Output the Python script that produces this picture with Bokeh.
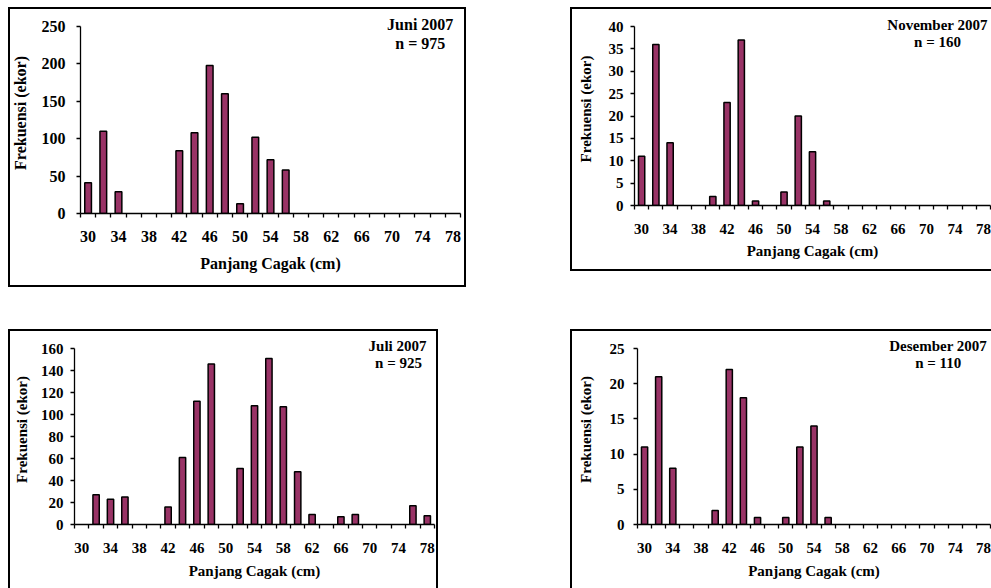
from bokeh.plotting import figure
from bokeh.models import Range1d, FixedTicker, Label, Spacer, ColumnDataSource
from bokeh.layouts import column, row
from bokeh.embed import file_html
from bokeh.resources import INLINE

# ---- data ----
lengths = [30, 32, 34, 36, 38, 40, 42, 44, 46, 48, 50, 52, 54, 56, 58,
           60, 62, 64, 66, 68, 70, 72, 74, 76, 78]
tick_labels = [30, 34, 38, 42, 46, 50, 54, 58, 62, 66, 70, 74, 78]

juni = [41, 110, 29, 0, 0, 0, 84, 108, 198, 160, 13, 102, 72, 58, 0,
        0, 0, 0, 0, 0, 0, 0, 0, 0, 0]
november = [11, 36, 14, 0, 0, 2, 23, 37, 1, 0, 3, 20, 12, 1, 0,
            0, 0, 0, 0, 0, 0, 0, 0, 0, 0]
juli = [0, 27, 23, 25, 0, 0, 16, 61, 112, 146, 0, 51, 108, 151, 107,
        48, 9, 0, 7, 9, 0, 0, 0, 17, 8]
desember = [11, 21, 8, 0, 0, 2, 22, 18, 1, 0, 1, 11, 14, 1, 0,
            0, 0, 0, 0, 0, 0, 0, 0, 0, 0]

titles = ["Juni 2007", "November 2007", "Juli 2007", "Desember 2007"]
n_labels = ["n = 975", "n = 160", "n = 925", "n = 110"]
y_max = [250, 40, 160, 25]
y_step = [50, 5, 20, 5]

FONT = "Liberation Serif"
BAR = "#993366"
X_TITLE = "Panjang Cagak (cm)"
Y_TITLE = "Frekuensi (ekor)"


def panel(counts, title, nlab, ymax, ystep, box, frame, top_ext, font_px,
          ylab_so, ytit_so, xlab_so, xtit_so, title_xy, n_xy, lines):
    """box = (x0, y0, w, h) and frame = (left, right, top_at_ymax, bottom),
    all in page pixels; lines = border strokes (x, y, w, h) inside the box."""
    x0, y0, w, h = box
    fl, fr, ft, fb = frame
    half = (lengths[1] - lengths[0]) / 2.0
    x_start = lengths[0] - half
    x_end = lengths[-1] + half
    y_end = ymax * (fb - top_ext) / (fb - ft)
    p = figure(width=w, height=h, output_backend="svg",
               toolbar_location=None,
               x_range=Range1d(x_start, x_end), y_range=Range1d(0, y_end),
               min_border_left=int(round(fl - x0)),
               min_border_right=int(round(x0 + w - fr)),
               min_border_top=int(round(top_ext - y0)),
               min_border_bottom=int(round(y0 + h - fb)))
    p.outline_line_color = None
    p.grid.visible = False
    p.background_fill_color = None
    p.border_fill_color = None

    xs = [x for x, c in zip(lengths, counts) if c > 0]
    ys = [c for c in counts if c > 0]
    src = ColumnDataSource(dict(x=xs, top=ys))
    p.vbar(x="x", top="top", width=2 * half * 0.44, bottom=0, source=src,
           fill_color=BAR, line_color="black", line_width=1.5)

    fs = f"{font_px}px"
    xa = p.xaxis[0]
    bounds = [v - half for v in lengths] + [lengths[-1] + half]
    xa.ticker = FixedTicker(ticks=tick_labels, minor_ticks=bounds)
    xa.major_tick_out = 0
    xa.major_tick_in = 0
    xa.minor_tick_out = 4
    xa.minor_tick_in = 0
    xa.axis_line_color = "black"
    xa.axis_line_width = 1.3
    xa.minor_tick_line_color = "black"
    xa.minor_tick_line_width = 1.3
    xa.major_label_text_font = FONT
    xa.major_label_text_font_size = fs
    xa.major_label_text_font_style = "bold"
    xa.major_label_text_color = "black"
    xa.major_label_standoff = xlab_so
    xa.axis_label = X_TITLE
    xa.axis_label_text_font = FONT
    xa.axis_label_text_font_size = fs
    xa.axis_label_text_font_style = "bold"
    xa.axis_label_text_color = "black"
    xa.axis_label_standoff = xtit_so

    ya = p.yaxis[0]
    ya.bounds = (0, ymax)
    ya.ticker = FixedTicker(ticks=list(range(0, ymax + 1, ystep)), minor_ticks=[])
    ya.major_tick_out = 4
    ya.major_tick_in = 0
    ya.major_tick_line_color = "black"
    ya.major_tick_line_width = 1.3
    ya.axis_line_color = "black"
    ya.axis_line_width = 1.3
    ya.major_label_text_font = FONT
    ya.major_label_text_font_size = fs
    ya.major_label_text_font_style = "bold"
    ya.major_label_text_color = "black"
    ya.major_label_standoff = ylab_so
    ya.axis_label = Y_TITLE
    ya.axis_label_text_font = FONT
    ya.axis_label_text_font_size = fs
    ya.axis_label_text_font_style = "bold"
    ya.axis_label_text_color = "black"
    ya.axis_label_standoff = ytit_so

    def to_data(px, py):
        dx = x_start + (px - fl) / (fr - fl) * (x_end - x_start)
        dy = (fb - py) / (fb - ft) * ymax
        return dx, dy

    for txt, (px, py) in ((title, title_xy), (nlab, n_xy)):
        dx, dy = to_data(px, py)
        p.add_layout(Label(x=dx, y=dy, text=txt, text_font=FONT,
                           text_font_size=fs, text_font_style="bold",
                           text_align="center", text_baseline="middle",
                           text_color="black"))

    layers = [f"linear-gradient(#000,#000) {lx}px {ly}px / {lw}px {lh}px no-repeat"
              for (lx, ly, lw, lh) in lines]
    p.styles = {"background": ", ".join(layers)}
    return p


p1 = panel(juni, titles[0], n_labels[0], y_max[0], y_step[0],
           box=(8, 7, 458, 280), frame=(78, 460, 26, 213), top_ext=12,
           font_px=16, ylab_so=11, ytit_so=10, xlab_so=13, xtit_so=10,
           title_xy=(419.5, 24), n_xy=(419.6, 42.7),
           lines=[(0, 0, 2, 280), (0, 0, 458, 2), (456, 0, 2, 280), (0, 278, 458, 2)])
p2 = panel(november, titles[1], n_labels[1], y_max[1], y_step[1],
           box=(570, 7, 421, 272), frame=(634, 990, 26, 205), top_ext=12,
           font_px=15, ylab_so=7, ytit_so=12, xlab_so=14, xtit_so=6,
           title_xy=(937, 24), n_xy=(937, 41.7),
           lines=[(0, 0, 2, 264), (0, 0, 421, 2), (0, 262, 421, 2)])
p3 = panel(juli, titles[2], n_labels[2], y_max[2], y_step[2],
           box=(8, 329, 430, 259), frame=(74, 434, 348, 524), top_ext=334,
           font_px=15, ylab_so=7, ytit_so=8, xlab_so=14, xtit_so=7,
           title_xy=(397, 345), n_xy=(398, 362.7),
           lines=[(0, 0, 2, 259), (0, 0, 430, 2), (428, 0, 2, 259)])
p4 = panel(desember, titles[3], n_labels[3], y_max[3], y_step[3],
           box=(570, 329, 421, 259), frame=(637, 990, 348, 524), top_ext=334,
           font_px=15, ylab_so=9, ytit_so=13, xlab_so=14, xtit_so=7,
           title_xy=(937.7, 345), n_xy=(937.7, 362.3),
           lines=[(0, 0, 2, 259), (0, 0, 421, 2)])

grid = column(
    row(p1, Spacer(width=104), p2, spacing=0),
    Spacer(height=42),
    row(p3, Spacer(width=132), p4, spacing=0),
    spacing=0,
)
layout = column(Spacer(height=7), row(Spacer(width=8), grid, spacing=0), spacing=0)

open("out.html", "w").write(file_html(layout, INLINE))
